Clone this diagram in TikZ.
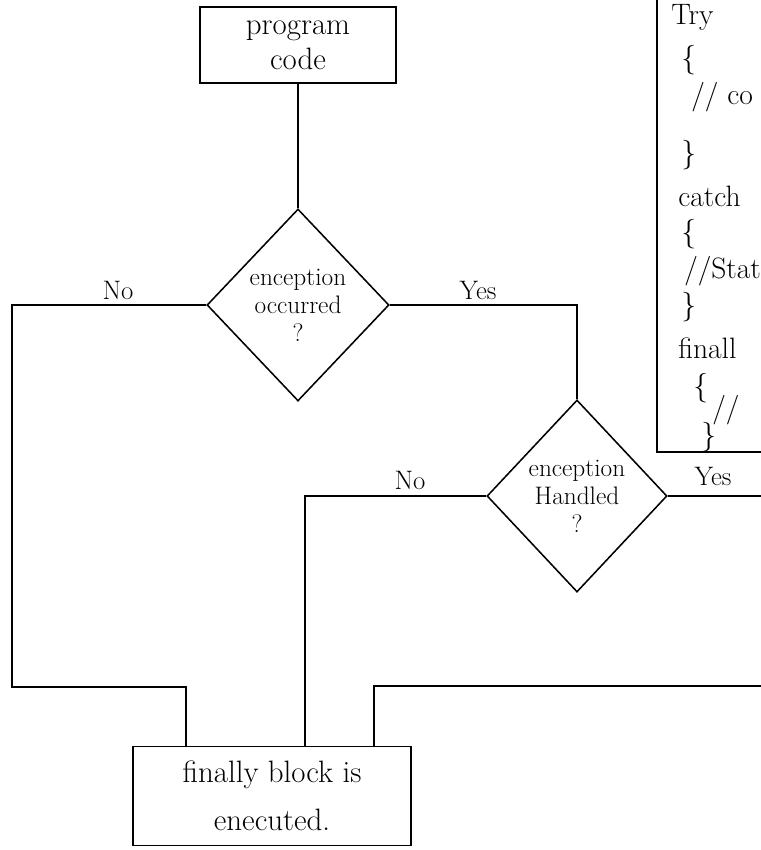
\documentclass[tikz,border=0pt]{standalone}
\usepackage{tikz}
\usetikzlibrary{shapes.geometric, positioning, calc}

\begin{document}
\begin{tikzpicture}[x=0.025cm, y=-0.025cm,
  process/.style={rectangle, draw, line width=1.1pt, align=center},
  decision/.style={diamond, draw, line width=1.1pt, align=center, inner sep=-1pt, font=\fontsize{18}{20}\selectfont},
  wire/.style={line width=1.1pt},
  branch/.style={font=\fontsize{19}{22}\selectfont},
  codeline/.style={anchor=west, inner sep=0pt, font=\fontsize{21}{25}\selectfont}
]
\useasboundingbox (0,0) rectangle (761,850);

\node[process, minimum width=4.9cm, minimum height=1.9cm, font=\fontsize{22}{25}\selectfont] (prog) at (298,45) {program\\code};
\node[decision, minimum width=4.55cm, minimum height=4.8cm] (occ) at (298,305) {enception\\occurred\\?};
\node[decision, minimum width=4.5cm, minimum height=4.8cm] (hand) at (577,496) {enception\\Handled\\?};
\node[process, minimum width=6.95cm, minimum height=2.475cm, font=\fontsize{22}{34}\selectfont] (fin) at (272,796) {finally block is\\enecuted.};

% free ends and turning points
\coordinate (nol) at (12,687);
\coordinate (c1) at (186,0);
\coordinate (c2) at (305,0);
\coordinate (c3) at (374,0);
\coordinate (rim) at (761,0);
\coordinate (ret) at (761,686);

\draw[wire] (prog) -- (occ);
\draw[wire] (occ.west) -| (nol) -| (c1 |- fin.north);
\draw[wire] (occ.east) -| (hand.north);
\draw[wire] (hand.west) -| (c2 |- fin.north);
\draw[wire] (hand.east) -- (rim |- hand.east);
\draw[wire] (ret) -| (c3 |- fin.north);

\node[branch] (no1) at (118,290) {No};
\node[branch] (yes1) at (478,290) {Yes};
\node[branch] (no2) at (410,480) {No};
\node[branch] (yes2) at (713,476) {Yes};

% code listing on the right
\draw[wire] (657,0) -- (657,452) -- (761,452);
\node[codeline] (k1) at (671,17) {Try};
\node[codeline] (k2) at (681,60) {\{};
\node[codeline] (k3) at (691,97) {// co};
\node[codeline] (k4) at (681,155) {\}};
\node[codeline] (k5) at (678,196) {catch};
\node[codeline] (k6) at (681,234) {\{};
\node[codeline] (k7) at (684,271) {//Stat};
\node[codeline] (k8) at (681,307) {\}};
\node[codeline] (k9) at (678,348) {finall};
\node[codeline] (k10) at (693,388) {\{};
\node[codeline] (k11) at (712,410) {//};
\node[codeline] (k12) at (701,437) {\}};
\end{tikzpicture}
\end{document}
